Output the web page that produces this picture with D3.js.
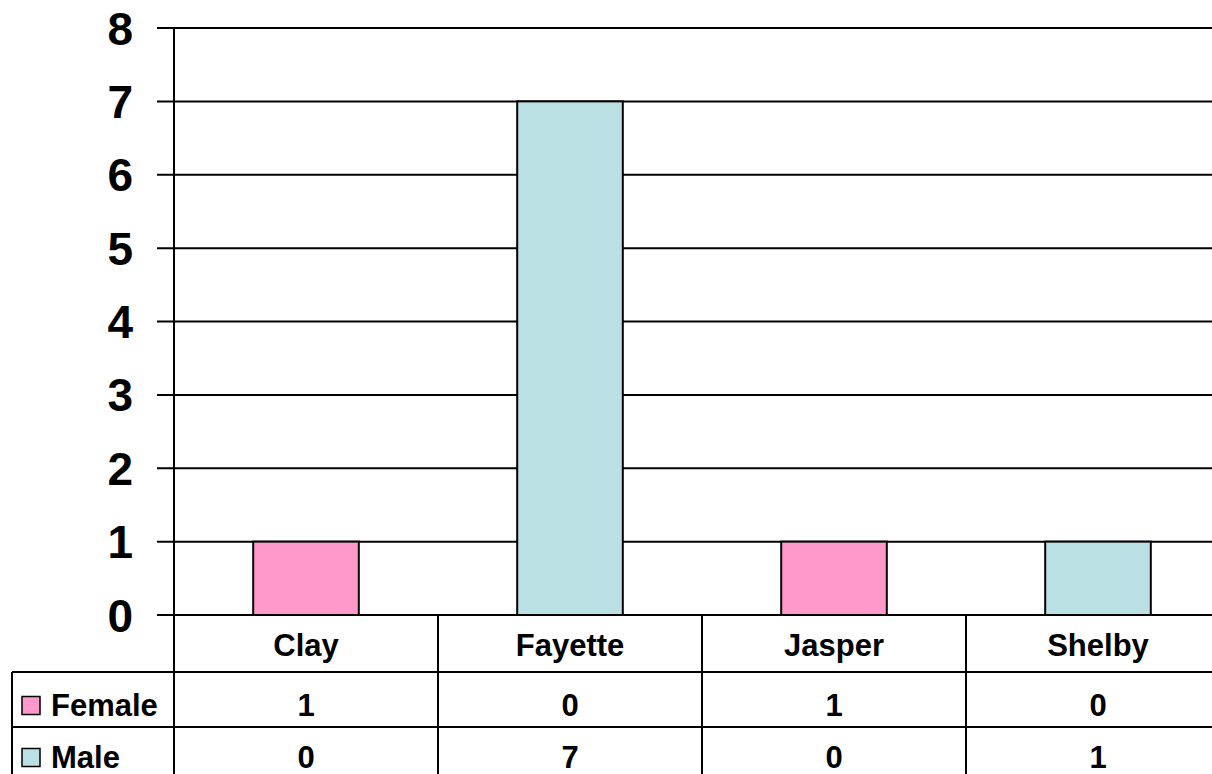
<!DOCTYPE html>
<html>
<head>
<meta charset="utf-8">
<script src="https://cdn.jsdelivr.net/npm/d3@7"></script>
<style>
  body { margin: 0; background: #fff; }
  svg { display: block; font-family: "Liberation Sans", Arial, sans-serif; font-weight: bold; }
</style>
</head>
<body>
<div id="chart"></div>
<script>
// Data
var counties = ["Clay", "Fayette", "Jasper", "Shelby"];
var seriesNames = ["Female", "Male"];
var female = [1, 0, 1, 0];
var male = [0, 7, 0, 1];
var yTicks = [0, 1, 2, 3, 4, 5, 6, 7, 8];
var colors = ["#FF99CC", "#BBE0E3"];

var W = 1212, H = 774;
var plotLeft = 174, plotTop = 28, plotBottom = 615;
var bandW = 264;

var svg = d3.select("#chart").append("svg")
	.attr("width", W)
	.attr("height", H);

var x = d3.scaleBand()
	.domain(counties)
	.range([plotLeft, plotLeft + bandW * counties.length])
	.paddingInner(0)
	.paddingOuter(0);

var y = d3.scaleLinear()
	.domain([0, 8])
	.range([plotBottom, plotTop]);

// table of values for stacking
var table = counties.map(function(c, i){
	return {county: c, Female: female[i], Male: male[i]};
});
var stacked = d3.stack().keys(seriesNames)(table);

// Gridlines + tick marks
svg.append("g")
	.selectAll("line")
	.data(yTicks)
	.enter()
	.append("line")
	.attr("x1", plotLeft - 17)
	.attr("x2", W)
	.attr("y1", function(d){ return y(d); })
	.attr("y2", function(d){ return y(d); })
	.attr("stroke", "#000")
	.attr("stroke-width", 2);

// y labels
svg.append("g")
	.selectAll("text")
	.data(yTicks)
	.enter()
	.append("text")
	.attr("x", 133)
	.attr("y", function(d){ return y(d); })
	.attr("dy", "0.36em")
	.attr("text-anchor", "end")
	.attr("font-size", "46px")
	.text(function(d){ return d; });

// bars
var barW = bandW * 0.4;
svg.append("g")
	.selectAll("g")
	.data(stacked)
	.enter()
	.append("g")
	.attr("fill", function(d, i){ return colors[i]; })
	.selectAll("rect")
	.data(function(d){ return d.filter(function(p){ return p[1] - p[0] > 0; }); })
	.enter()
	.append("rect")
	.attr("x", function(d){ return x(d.data.county) + (bandW - barW) / 2; })
	.attr("y", function(d){ return y(d[1]); })
	.attr("width", barW)
	.attr("height", function(d){ return y(d[0]) - y(d[1]); })
	.attr("stroke", "#000")
	.attr("stroke-width", 2);

// y axis line
svg.append("line")
	.attr("x1", plotLeft).attr("x2", plotLeft)
	.attr("y1", plotTop).attr("y2", H)
	.attr("stroke", "#000")
	.attr("stroke-width", 2);

// baseline redraw on top of bars
svg.append("line")
	.attr("x1", plotLeft - 17).attr("x2", W)
	.attr("y1", y(0)).attr("y2", y(0))
	.attr("stroke", "#000")
	.attr("stroke-width", 2);

////////////////////////////////////////////
///////////// Data table ///////////////////
////////////////////////////////////////////
var tbl = svg.append("g").attr("class", "datatable");
var rowLines = [672, 727];
var rowText = [645, 705, 757];

// column separators
tbl.selectAll("line.col")
	.data(counties.slice(1))
	.enter()
	.append("line")
	.attr("class", "col")
	.attr("x1", function(d){ return x(d); })
	.attr("x2", function(d){ return x(d); })
	.attr("y1", plotBottom).attr("y2", H)
	.attr("stroke", "#000")
	.attr("stroke-width", 2);

// row separators
tbl.selectAll("line.row")
	.data(rowLines)
	.enter()
	.append("line")
	.attr("class", "row")
	.attr("x1", 12).attr("x2", W)
	.attr("y1", function(d){ return d; })
	.attr("y2", function(d){ return d; })
	.attr("stroke", "#000")
	.attr("stroke-width", 2);

// left border
tbl.append("line")
	.attr("x1", 12).attr("x2", 12)
	.attr("y1", rowLines[0]).attr("y2", H)
	.attr("stroke", "#000")
	.attr("stroke-width", 2);

// category header
tbl.selectAll("text.cat")
	.data(counties)
	.enter()
	.append("text")
	.attr("class", "cat")
	.attr("x", function(d){ return x(d) + bandW / 2; })
	.attr("y", rowText[0])
	.attr("dy", "0.36em")
	.attr("text-anchor", "middle")
	.attr("font-size", "31px")
	.text(function(d){ return d; });

// series rows
var rows = [female, male];
rows.forEach(function(vals, r){
	var ry = rowText[r + 1];
	tbl.append("rect")
		.attr("x", 22)
		.attr("y", ry - 8.5)
		.attr("width", 18)
		.attr("height", 18)
		.attr("fill", colors[r])
		.attr("stroke", "#000")
		.attr("stroke-width", 1.5);
	tbl.append("text")
		.attr("x", 51)
		.attr("y", ry)
		.attr("dy", "0.36em")
		.attr("font-size", "31px")
		.text(seriesNames[r]);
	tbl.selectAll("text.v" + r)
		.data(vals)
		.enter()
		.append("text")
		.attr("class", "v" + r)
		.attr("x", function(d, i){ return x(counties[i]) + bandW / 2; })
		.attr("y", ry)
		.attr("dy", "0.36em")
		.attr("text-anchor", "middle")
		.attr("font-size", "31px")
		.text(function(d){ return d; });
});
</script>
</body>
</html>
